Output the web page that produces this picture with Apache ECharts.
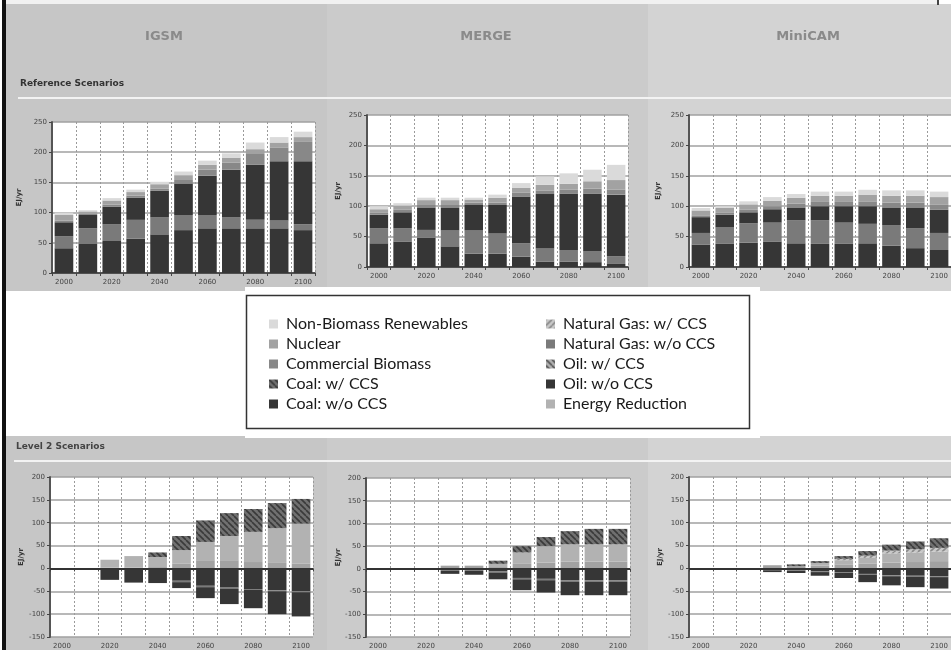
<!DOCTYPE html>
<html><head><meta charset="utf-8">
<script src="https://cdn.jsdelivr.net/npm/echarts@6/dist/echarts.min.js"></script>
<style>html,body{margin:0;padding:0;background:#fff}#c{width:951px;height:650px}</style>
</head><body><div id="c"></div><script>
// ---------------- data ----------------
const years = ['2000','2010','2020','2030','2040','2050','2060','2070','2080','2090','2100'];
const TOP_MIN = 0, TOP_MAX = 250, BOT_MIN = -150, BOT_MAX = 200, STEP = 50;
const yName = 'EJ/yr';

// Reference scenarios (EJ/yr)
const igsmRef_oil     = [41, 48, 53, 57, 64, 71, 74, 74, 74, 74, 71];
const igsmRef_gas     = [20, 26, 28, 31, 28, 25, 22, 18, 14, 13, 10];
const igsmRef_coal    = [23, 22, 29, 37, 44, 52, 65, 79, 91, 98, 104];
const igsmRef_biomass = [3, 2, 3, 3, 4, 6, 10, 12, 18, 23, 32];
const igsmRef_nuclear = [9, 4, 7, 6, 7, 8, 8, 8, 8, 8, 8];
const igsmRef_renew   = [4, 2, 4, 4, 4, 6, 7, 7, 11, 9, 9];

const mergeRef_oil     = [39, 42, 48, 34, 22, 22, 17, 9, 9, 8, 5];
const mergeRef_gas     = [25, 22, 13, 26, 38, 33, 22, 22, 19, 18, 13];
const mergeRef_coal    = [22, 26, 37, 38, 43, 47, 77, 89, 93, 95, 101];
const mergeRef_biomass = [3, 4, 4, 4, 3, 4, 6, 6, 6, 8, 8];
const mergeRef_nuclear = [6, 7, 8, 8, 5, 8, 8, 9, 10, 12, 16];
const mergeRef_renew   = [5, 4, 4, 4, 3, 5, 8, 14, 17, 19, 25];

const minicamRef_oil     = [37, 38, 40, 42, 39, 38, 38, 39, 35, 31, 28];
const minicamRef_gas     = [19, 27, 32, 31, 38, 39, 35, 32, 34, 33, 28];
const minicamRef_coal    = [26, 21, 18, 22, 21, 23, 27, 29, 29, 34, 38];
const minicamRef_biomass = [3, 3, 4, 5, 6, 7, 7, 8, 8, 8, 9];
const minicamRef_nuclear = [8, 8, 9, 9, 10, 10, 10, 11, 11, 11, 12];
const minicamRef_renew   = [4, 3, 5, 6, 6, 7, 7, 8, 9, 9, 9];

// Level 2 scenarios: change from reference (EJ/yr)
const igsmL2_oil       = [null, null, -25, -31, -32, -27, -38, -42, -45, -48, -50];
const igsmL2_gas       = [null, null, 0, 0, 0, -3, -3, -3, -2, -2, -2];
const igsmL2_coal      = [null, null, 0, 0, 0, -13, -24, -33, -40, -50, -53];
const igsmL2_nuclear   = [null, null, 2, 2, 3, 11, 18, 18, 14, 12, 11];
const igsmL2_energyRed = [null, null, 17, 25, 22, 29, 40, 53, 66, 76, 87];
const igsmL2_coalCCS   = [null, null, 0, 0, 10, 31, 47, 50, 50, 55, 54];

const mergeL2_oil       = [null, null, null, 0, 0, -5, -20, -22, -25, -25, -25];
const mergeL2_gas       = [null, null, null, -4, -4, -3, -3, -3, -3, -3, -3];
const mergeL2_coal      = [null, null, null, -7, -9, -15, -24, -27, -30, -30, -30];
const mergeL2_nuclear   = [null, null, null, 7, 7, 4, 11, 14, 16, 16, 16];
const mergeL2_energyRed = [null, null, null, 0, 0, 7, 25, 36, 38, 38, 38];
const mergeL2_coalCCS   = [null, null, null, 0, 0, 7, 14, 20, 29, 34, 34];

const minicamL2_oil       = [null, null, null, -3, -4, -6, -8, -12, -15, -16, -17];
const minicamL2_gas       = [null, null, null, -1, -1, -2, -2, -2, -2, -2, -2];
const minicamL2_coal      = [null, null, null, -4, -5, -8, -11, -16, -20, -23, -25];
const minicamL2_nuclear   = [null, null, null, 7, 5, 6, 9, 11, 13, 14, 16];
const minicamL2_energyRed = [null, null, null, 0, 0, 6, 9, 12, 20, 21, 21];
const minicamL2_gasCCS    = [null, null, null, 0, 0, 0, 3, 5, 6, 7, 8];
const minicamL2_coalCCS   = [null, null, null, 0, 4, 4, 6, 10, 13, 17, 21];

const legendCol1 = ['Non-Biomass Renewables', 'Nuclear', 'Commercial Biomass', 'Coal: w/ CCS', 'Coal: w/o CCS'];
const legendCol2 = ['Natural Gas: w/ CCS', 'Natural Gas: w/o CCS', 'Oil: w/ CCS', 'Oil: w/o CCS', 'Energy Reduction'];

// ---------------- styles ----------------
function hatch(bg, fg, dir) {
  const c = document.createElement('canvas');
  c.width = 6; c.height = 6;
  const g = c.getContext('2d');
  g.fillStyle = bg; g.fillRect(0, 0, 6, 6);
  g.strokeStyle = fg; g.lineWidth = 1.6;
  g.beginPath();
  for (const k of [-6, 0, 6]) {
    if (dir === 'back') { g.moveTo(k, 0); g.lineTo(k + 6, 6); }
    else { g.moveTo(k, 6); g.lineTo(k + 6, 0); }
  }
  g.stroke();
  return { image: c, repeat: 'repeat' };
}
const COLORS = {
  'Oil: w/o CCS': '#363636',
  'Natural Gas: w/o CCS': '#7a7a7a',
  'Coal: w/o CCS': '#363636',
  'Commercial Biomass': '#888888',
  'Nuclear': '#a2a2a2',
  'Non-Biomass Renewables': '#dadada',
  'Energy Reduction': '#b2b2b2',
  'Oil: w/ CCS': hatch('#b0b0b0', '#555555', 'back'),
  'Natural Gas: w/ CCS': hatch('#c8c8c8', '#8a8a8a', 'fwd'),
  'Coal: w/ CCS': hatch('#707070', '#3a3a3a', 'back')
};

const grids = [
  { left: 52, top: 122, width: 263, height: 151 },
  { left: 367, top: 115, width: 261, height: 152 },
  { left: 689, top: 115, width: 266, height: 152 },
  { left: 50, top: 477, width: 263, height: 161 },
  { left: 366, top: 478, width: 264, height: 163 },
  { left: 689, top: 477, width: 266, height: 163 }
];
const nameGaps = [29, 25, 27, 25, 21, 25];

const xAxes = grids.map((g, i) => ({
  type: 'category', gridIndex: i, data: years,
  axisLine: { lineStyle: { color: i < 3 ? '#333' : '#888', width: 1.5 } },
  axisTick: { show: true, interval: 0, length: 3, lineStyle: { color: '#444' } },
  axisLabel: { interval: 1, fontSize: 7, color: '#444', margin: 6, fontFamily: 'DejaVu Sans' },
  splitLine: { show: true, interval: 0, lineStyle: { color: '#9a9a9a', type: [2, 2], width: 1 } }
}));
const yAxes = grids.map((g, i) => ({
  type: 'value', gridIndex: i,
  min: i < 3 ? TOP_MIN : BOT_MIN, max: i < 3 ? TOP_MAX : BOT_MAX, interval: STEP,
  name: yName, nameLocation: 'middle', nameGap: nameGaps[i], nameRotate: 90,
  nameTextStyle: { fontSize: 7, color: '#333', fontWeight: 'bold', fontFamily: 'DejaVu Sans' },
  axisLine: { show: true, lineStyle: { color: '#555', width: 2 } },
  axisTick: { show: true, length: 3, lineStyle: { color: '#444' } },
  axisLabel: { fontSize: 7, color: '#444', margin: 5, fontFamily: 'DejaVu Sans' },
  splitLine: { show: true, lineStyle: { color: '#a0a0a0', width: 1.6 } }
}));

const series = [];
function add(gi, name, data, extra) {
  const s = {
    type: 'bar', name, xAxisIndex: gi, yAxisIndex: gi, stack: 'g' + gi,
    data, barWidth: '78%', itemStyle: { color: COLORS[name] },
    emphasis: { disabled: true }, silent: true
  };
  if (extra) Object.assign(s, extra);
  series.push(s);
}
const zeroLine = { markLine: { silent: true, symbol: 'none', label: { show: false },
  lineStyle: { color: '#333', width: 2, type: 'solid' }, data: [{ yAxis: 0 }] } };

// top row
add(0, 'Oil: w/o CCS', igsmRef_oil); add(0, 'Natural Gas: w/o CCS', igsmRef_gas); add(0, 'Coal: w/o CCS', igsmRef_coal);
add(0, 'Commercial Biomass', igsmRef_biomass); add(0, 'Nuclear', igsmRef_nuclear); add(0, 'Non-Biomass Renewables', igsmRef_renew);
add(1, 'Oil: w/o CCS', mergeRef_oil); add(1, 'Natural Gas: w/o CCS', mergeRef_gas); add(1, 'Coal: w/o CCS', mergeRef_coal);
add(1, 'Commercial Biomass', mergeRef_biomass); add(1, 'Nuclear', mergeRef_nuclear); add(1, 'Non-Biomass Renewables', mergeRef_renew);
add(2, 'Oil: w/o CCS', minicamRef_oil); add(2, 'Natural Gas: w/o CCS', minicamRef_gas); add(2, 'Coal: w/o CCS', minicamRef_coal);
add(2, 'Commercial Biomass', minicamRef_biomass); add(2, 'Nuclear', minicamRef_nuclear); add(2, 'Non-Biomass Renewables', minicamRef_renew);
// bottom row
add(3, 'Oil: w/o CCS', igsmL2_oil); add(3, 'Natural Gas: w/o CCS', igsmL2_gas); add(3, 'Coal: w/o CCS', igsmL2_coal);
add(3, 'Nuclear', igsmL2_nuclear); add(3, 'Energy Reduction', igsmL2_energyRed); add(3, 'Oil: w/ CCS', []);
add(3, 'Coal: w/ CCS', igsmL2_coalCCS, zeroLine);
add(4, 'Oil: w/o CCS', mergeL2_oil); add(4, 'Natural Gas: w/o CCS', mergeL2_gas); add(4, 'Coal: w/o CCS', mergeL2_coal);
add(4, 'Nuclear', mergeL2_nuclear); add(4, 'Energy Reduction', mergeL2_energyRed);
add(4, 'Coal: w/ CCS', mergeL2_coalCCS, zeroLine);
add(5, 'Oil: w/o CCS', minicamL2_oil); add(5, 'Natural Gas: w/o CCS', minicamL2_gas); add(5, 'Coal: w/o CCS', minicamL2_coal);
add(5, 'Nuclear', minicamL2_nuclear); add(5, 'Energy Reduction', minicamL2_energyRed);
add(5, 'Natural Gas: w/ CCS', minicamL2_gasCCS); add(5, 'Coal: w/ CCS', minicamL2_coalCCS, zeroLine);

// ---------------- page decoration ----------------
function rect(x, y, w, h, fill, z) { return { type: 'rect', z: z, silent: true, shape: { x, y, width: w, height: h }, style: { fill } }; }
function txt(x, y, text, size, color, align, weight) {
  return { type: 'text', x, y, z: 1, silent: true,
    style: { text, fill: color, fontSize: size, fontWeight: weight || 'bold', fontFamily: 'DejaVu Sans', align: align, verticalAlign: 'middle' } };
}
const graphic = [
  rect(0, 0, 951, 650, '#ffffff', -30),
  rect(6, 4, 321, 287, '#c6c6c6', -20),
  rect(327, 4, 321, 287, '#cbcbcb', -20),
  rect(648, 4, 303, 287, '#d3d3d3', -20),
  rect(6, 0, 931, 4, '#f1f1f1', -19),
  rect(937, 0, 2, 5, '#444444', -19),
  rect(6, 436, 321, 214, '#c6c6c6', -20),
  rect(327, 436, 321, 214, '#cbcbcb', -20),
  rect(648, 436, 303, 214, '#d3d3d3', -20),
  rect(245, 287, 515, 151, '#ffffff', -18),
  rect(18, 97, 933, 2, '#f3f3f3', -17),
  rect(14, 460, 937, 2, '#f3f3f3', -17),
  rect(2, 0, 4, 650, '#111111', -10),
  { type: 'rect', z: -5, silent: true, shape: { x: 246.5, y: 295.5, width: 503, height: 133 },
    style: { fill: '#ffffff', stroke: '#333333', lineWidth: 1.5 } },
  txt(164, 37, 'IGSM', 13, '#8a8a8a', 'center'),
  txt(486, 37, 'MERGE', 13, '#8a8a8a', 'center'),
  txt(808, 37, 'MiniCAM', 13, '#8a8a8a', 'center'),
  txt(20, 84, 'Reference Scenarios', 9, '#333333', 'left'),
  txt(16, 447, 'Level 2 Scenarios', 9, '#444444', 'left')
];

const legendCommon = {
  orient: 'vertical', itemWidth: 9, itemHeight: 9, itemGap: 0, icon: 'rect', selectedMode: false,
  textStyle: { fontFamily: 'Lato', fontSize: 16, color: '#1a1a1a', lineHeight: 20, padding: [0, 0, 0, 3] }
};
const option = {
  animation: false,
  backgroundColor: '#ffffff',
  graphic: graphic,
  grid: grids.map(g => Object.assign({ show: true, backgroundColor: '#ffffff', borderWidth: 0, containLabel: false }, g)),
  xAxis: xAxes,
  yAxis: yAxes,
  legend: [
    Object.assign({ data: legendCol1, left: 264, top: 309 }, legendCommon),
    Object.assign({ data: legendCol2, left: 541, top: 309 }, legendCommon)
  ],
  series: series
};
echarts.init(document.getElementById('c')).setOption(option);
</script></body></html>
